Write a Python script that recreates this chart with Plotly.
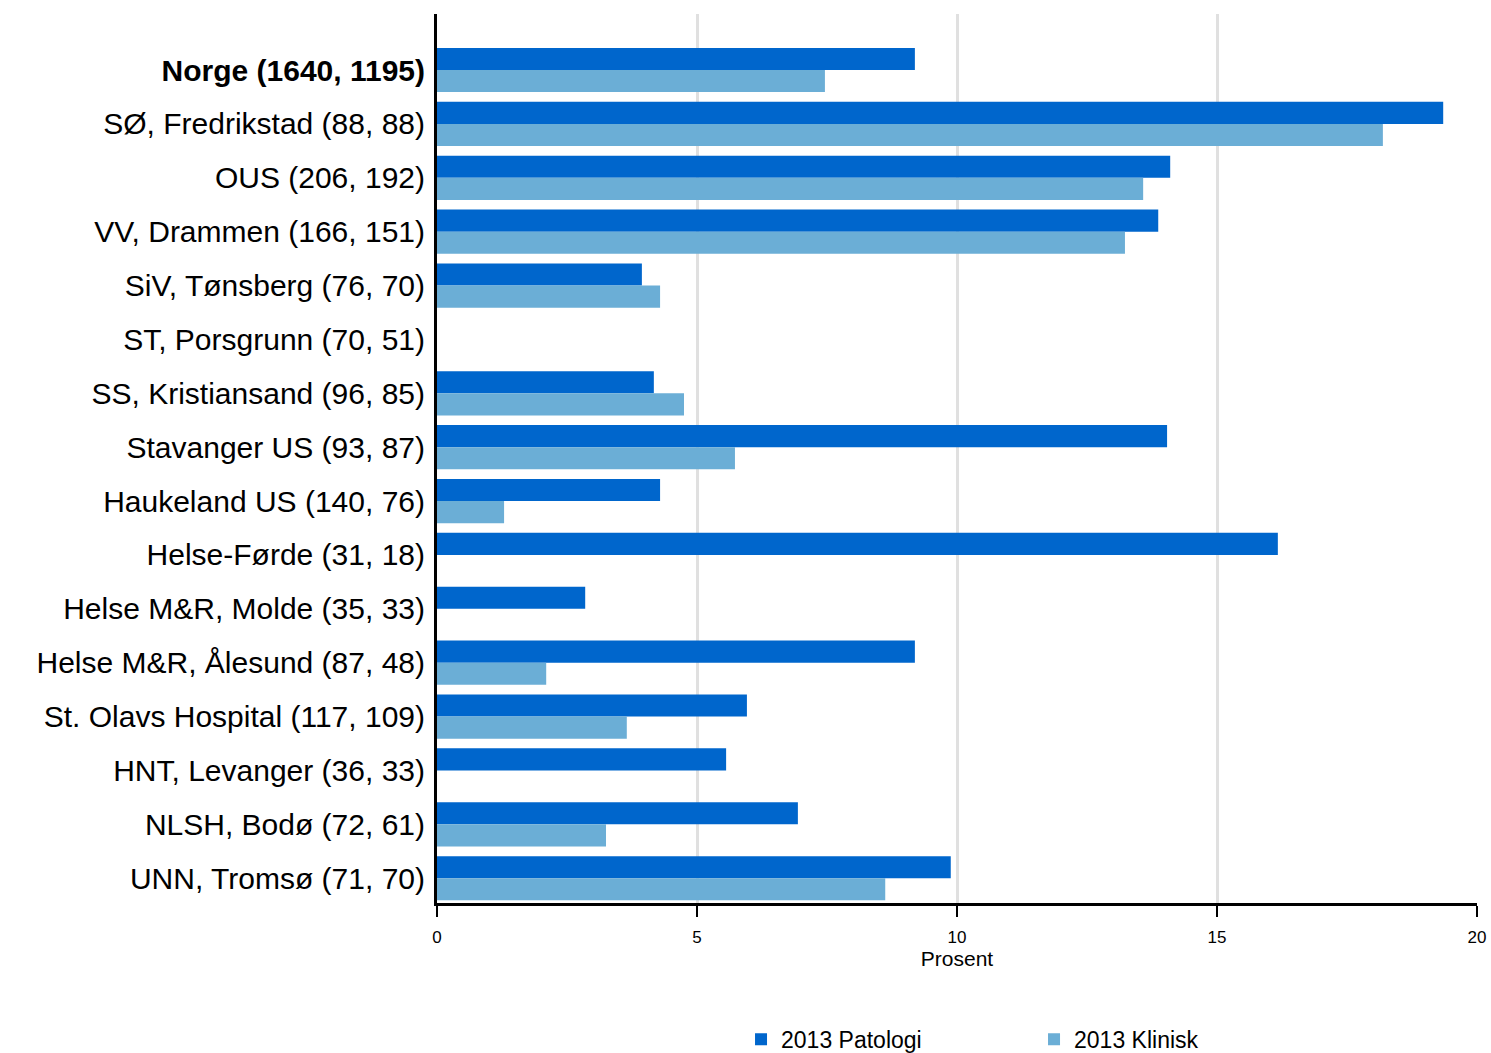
import plotly.graph_objects as go

categories = [
    "<b>Norge (1640, 1195)</b>",
    "SØ, Fredrikstad (88, 88)",
    "OUS (206, 192)",
    "VV, Drammen (166, 151)",
    "SiV, Tønsberg (76, 70)",
    "ST, Porsgrunn (70, 51)",
    "SS, Kristiansand (96, 85)",
    "Stavanger US (93, 87)",
    "Haukeland US (140, 76)",
    "Helse-Førde (31, 18)",
    "Helse M&R, Molde (35, 33)",
    "Helse M&R, Ålesund (87, 48)",
    "St. Olavs Hospital (117, 109)",
    "HNT, Levanger (36, 33)",
    "NLSH, Bodø (72, 61)",
    "UNN, Tromsø (71, 70)",
]
patologi = [9.19, 19.35, 14.1, 13.87, 3.94, None, 4.17, 14.04, 4.29, 16.17, 2.85, 9.19, 5.96, 5.56, 6.94, 9.88]
klinisk = [7.46, 18.19, 13.58, 13.23, 4.29, None, 4.75, 5.73, 1.29, None, None, 2.10, 3.65, None, 3.25, 8.62]
x_ticks = [0, 5, 10, 15, 20]

fig = go.Figure()
fig.add_trace(go.Bar(y=categories, x=patologi, orientation="h", name="2013 Patologi",
                     marker=dict(color="#0066CC", line=dict(width=0))))
fig.add_trace(go.Bar(y=categories, x=klinisk, orientation="h", name="2013 Klinisk",
                     marker=dict(color="#6BAED6", line=dict(width=0))))

fig.update_layout(
    width=1491, height=1053,
    margin=dict(l=437, r=14, t=14, b=150, autoexpand=False),
    plot_bgcolor="white", paper_bgcolor="white",
    barmode="group", bargap=0.18, bargroupgap=0,
    font=dict(family="Liberation Sans, Arial, sans-serif", color="black"),
    legend=dict(orientation="h", xref="container", yref="container",
                x=0.497, xanchor="left", y=0.013, yanchor="middle",
                font=dict(size=23), traceorder="normal",
                entrywidthmode="pixels", entrywidth=248),
    showlegend=True,
)
fig.update_xaxes(
    range=[0, 20], tickvals=x_ticks, ticktext=[str(v) for v in x_ticks],
    showgrid=True, gridcolor="#E0E0E0", gridwidth=3,
    showline=True, linecolor="black", linewidth=3,
    ticks="outside", ticklen=11, tickwidth=2, tickcolor="black",
    ticklabelstandoff=6, automargin=False,
    tickfont=dict(size=17), zeroline=False,
    title=dict(text="Prosent", font=dict(size=21), standoff=0),
)
fig.update_yaxes(
    categoryorder="array", categoryarray=categories,
    range=[15.46, -1.04], automargin=False,
    showline=True, linecolor="black", linewidth=3,
    ticks="", ticklabelstandoff=3, showgrid=False,
    tickfont=dict(size=30),
)

fig.write_html("out.html")
